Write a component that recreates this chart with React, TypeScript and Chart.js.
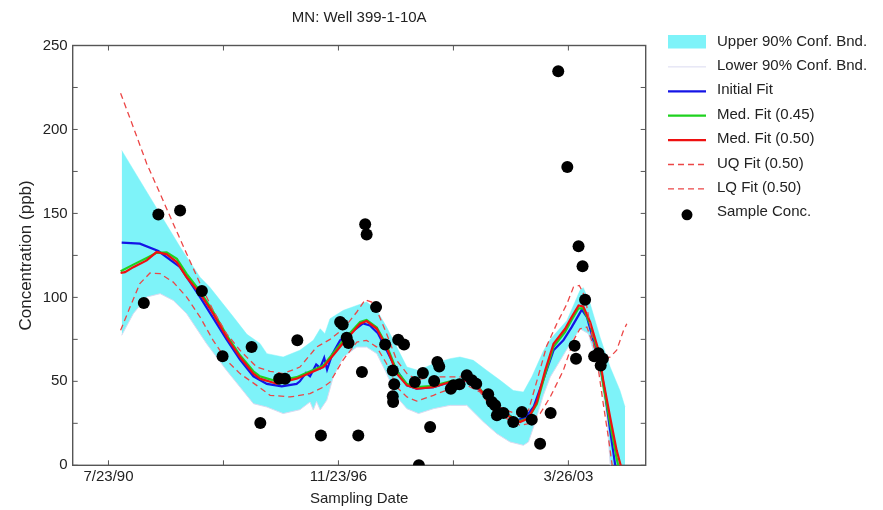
import React, { useEffect, useRef } from 'react';
import { Chart, registerables } from 'chart.js';

Chart.register(...registerables);

// ---------- text ----------
const CHART_TITLE = 'MN: Well 399-1-10A';
const X_TITLE = 'Sampling Date';
const Y_TITLE = 'Concentration (ppb)';

// ---------- axes (x in decimal years) ----------
const X_RANGE = [1989.57, 2005.36];
const X_TICK_VALUES = [1990.556, 1996.893, 2003.23];
const X_TICK_LABELS = ['7/23/90', '11/23/96', '3/26/03'];
const Y_RANGE = [0, 250];
const Y_TICK_VALUES = [0, 50, 100, 150, 200, 250];
const Y_MINOR_STEP = 25;

// ---------- series ----------
const sampleConc: [number, number][] = [
  [1991.53, 96.6], [1991.93, 149.4], [1992.53, 151.8], [1993.13, 103.8], [1993.7, 64.9],
  [1994.5, 70.4], [1994.74, 25.2], [1995.26, 51.6], [1995.42, 51.6], [1995.76, 74.4],
  [1996.41, 17.7], [1996.94, 85.3], [1997.01, 83.9], [1997.12, 76], [1997.17, 72.8],
  [1997.54, 55.5], [1997.44, 17.7], [1997.63, 143.5], [1997.67, 137.5], [1997.93, 94.2],
  [1998.18, 72], [1998.54, 74.8], [1998.7, 72], [1998.39, 56.5], [1998.43, 48.2],
  [1998.39, 41.1], [1998.4, 37.7], [1999.0, 49.6], [1999.11, 0], [1999.22, 55],
  [1999.53, 50.2], [1999.62, 61.5], [1999.67, 58.9], [1999.42, 22.8], [1999.99, 45.6],
  [2000.06, 47.6], [2000.23, 48.2], [2000.43, 53.6], [2000.57, 50.6], [2000.69, 48.6],
  [2001.02, 42.3], [2001.12, 37.7], [2001.21, 35.7], [2001.26, 29.8], [2001.44, 31.1],
  [2001.71, 25.8], [2001.95, 31.7], [2002.22, 27.2], [2002.45, 12.9], [2002.74, 31.1],
  [2002.95, 234.7], [2003.2, 177.6], [2003.51, 130.4], [2003.62, 118.5], [2003.69, 98.6],
  [2003.4, 71.2], [2003.44, 63.5], [2003.94, 64.9], [2004.06, 66.8], [2004.18, 63.5],
  [2004.12, 59.5],
];

const initialFit: [number, number][] = [
  [1990.92, 132.6], [1991.42, 132], [1991.93, 127.6], [1992.53, 118], [1993.08, 100.2],
  [1993.81, 75], [1994.18, 63], [1994.55, 53], [1994.92, 48.5], [1995.33, 47],
  [1995.74, 48.5], [1995.83, 50], [1996.0, 55], [1996.11, 53], [1996.28, 60],
  [1996.39, 58], [1996.5, 64], [1996.58, 57], [1996.72, 66], [1996.94, 74.4],
  [1997.21, 78.6], [1997.57, 84.5], [1997.76, 83.3], [1997.98, 78.6], [1998.22, 68.5],
  [1998.5, 56.5], [1998.78, 47.6], [1999.05, 45.6], [1999.51, 46.6], [1999.97, 49.6],
  [2000.43, 50.6], [2000.8, 44.6], [2001.16, 35.7], [2001.53, 30.8], [2001.81, 26.8],
  [2002.04, 28.4], [2002.27, 34.7], [2002.54, 51], [2002.82, 68.5], [2003.09, 74.4],
  [2003.32, 82.3], [2003.6, 92.7], [2003.74, 88.3], [2003.92, 74.4], [2004.1, 60.5],
  [2004.24, 42.9], [2004.38, 20.8], [2004.52, 0], [2004.65, -20],
];

const medFit045: [number, number][] = [
  [1990.89, 115.6], [1991.24, 119.5], [1991.61, 123.5], [1991.88, 126.5], [1992.16, 126.8],
  [1992.44, 123], [1992.71, 114], [1993.08, 103.5], [1993.44, 91.5], [1993.81, 77.5],
  [1994.18, 65.5], [1994.55, 56], [1994.73, 53], [1995.19, 50], [1995.74, 52.5],
  [1996.48, 59.5], [1997.03, 74.5], [1997.49, 85.3], [1997.67, 86.5], [1997.95, 82],
  [1998.22, 71.5], [1998.5, 56], [1998.78, 48.5], [1999.05, 46.5], [1999.51, 47.3],
  [1999.97, 50], [2000.43, 51], [2000.8, 45.3], [2001.16, 36], [2001.53, 30.2],
  [2001.9, 26.3], [2002.13, 28.2], [2002.36, 36.5], [2002.59, 54.5], [2002.82, 70.5],
  [2003.14, 79.5], [2003.32, 86.5], [2003.51, 93.5], [2003.64, 93.5], [2003.83, 84],
  [2004.06, 66.5], [2004.19, 48], [2004.38, 25], [2004.56, 4], [2004.6, 0], [2004.72, -15],
];

const medFit050: [number, number][] = [
  [1990.89, 114.5], [1991.01, 115], [1991.24, 118], [1991.61, 122], [1991.88, 127],
  [1992.16, 125.6], [1992.44, 121], [1992.71, 112], [1993.08, 102.2], [1993.44, 90.3],
  [1993.81, 76.4], [1994.18, 64.5], [1994.55, 54.6], [1994.73, 51.6], [1995.19, 48.6],
  [1995.74, 51.6], [1996.48, 58.5], [1997.03, 73], [1997.49, 84.3], [1997.67, 85.9],
  [1997.95, 81.3], [1998.22, 70.4], [1998.5, 54.6], [1998.78, 47.6], [1999.05, 45.6],
  [1999.51, 46.6], [1999.97, 49.6], [2000.43, 50.6], [2000.8, 45], [2001.16, 35.7],
  [2001.53, 29.8], [2001.9, 25.8], [2002.13, 28], [2002.36, 37.7], [2002.59, 56.5],
  [2002.82, 72.4], [2003.14, 81.3], [2003.32, 88.3], [2003.51, 95.2], [2003.64, 94.6],
  [2003.83, 85.3], [2004.06, 68.5], [2004.19, 50.6], [2004.38, 28.7], [2004.56, 8.9],
  [2004.67, 0], [2004.79, -15],
];

const uqFit: [number, number][] = [
  [1990.89, 221.6], [1991.24, 201.4], [1991.61, 179.6], [1991.98, 161.7], [1992.34, 143.9],
  [1992.71, 126], [1993.08, 108.2], [1993.44, 92.3], [1993.81, 78.4], [1994.18, 68.5],
  [1994.64, 58.5], [1995.01, 56], [1995.37, 54.6], [1995.83, 58.5], [1996.29, 70.4],
  [1996.66, 75], [1997.03, 81.3], [1997.4, 91.3], [1997.63, 98.6], [1997.81, 97.2],
  [1997.99, 90.3], [1998.22, 78.4], [1998.5, 62.5], [1998.78, 54.6], [1999.05, 51],
  [1999.51, 52.6], [1999.97, 52.6], [2000.43, 52.6], [2000.8, 45.6], [2001.16, 36.7],
  [2001.53, 32.7], [2001.9, 29.8], [2002.13, 32.7], [2002.45, 57], [2002.63, 71],
  [2002.91, 84.3], [2003.19, 96.2], [2003.37, 106.1], [2003.53, 107.1], [2003.69, 100.2],
  [2003.87, 78.4], [2004.06, 56.5], [2004.19, 36.7], [2004.33, 16.8], [2004.43, 1],
  [2004.52, -10],
];

const lqFit: [number, number][] = [
  [1990.89, 80.4], [1991.15, 94.2], [1991.42, 108.2], [1991.7, 114.5], [1991.98, 114.1],
  [1992.34, 109.1], [1992.71, 100.2], [1993.08, 88.3], [1993.44, 74.4], [1993.81, 62.5],
  [1994.18, 54.6], [1994.64, 47.6], [1995.01, 41.7], [1995.56, 40.7], [1996.11, 42.7],
  [1996.48, 46.6], [1996.66, 49.5], [1997.03, 63], [1997.4, 73.4], [1997.67, 74.4],
  [1997.95, 70.4], [1998.22, 60.5], [1998.5, 46.6], [1998.78, 40.7], [1999.05, 38.2],
  [1999.51, 41.7], [1999.97, 45.6], [2000.43, 47.6], [2000.8, 43.6], [2001.16, 32.7],
  [2001.53, 27.8], [2001.9, 23.8], [2002.13, 24.8], [2002.45, 30.8], [2002.73, 40.7],
  [2003.09, 56.5], [2003.37, 74.4], [2003.55, 81.3], [2003.74, 82.3], [2003.87, 74.4],
  [2004.01, 66.5], [2004.19, 63], [2004.38, 64.5], [2004.56, 68.5], [2004.75, 80.4],
  [2004.84, 84.3],
];

const upperBand: [number, number][] = [
  [1990.92, 187.5], [1992.53, 130], [1993.08, 112], [1993.35, 106], [1994.0, 88.3],
  [1994.37, 78], [1994.73, 72.6], [1994.92, 66.5], [1995.37, 64.5], [1995.83, 68.5],
  [1996.2, 74.4], [1996.39, 81.3], [1996.52, 78.4], [1996.66, 87.3], [1997.03, 92.3],
  [1997.4, 95.2], [1997.67, 97.2], [1997.95, 92.3], [1998.22, 82.3], [1998.5, 70.4],
  [1998.78, 58.5], [1999.1, 56.5], [1999.51, 60.5], [1999.97, 63.5], [2000.24, 64.5],
  [2000.61, 62.5], [2000.98, 56.5], [2001.35, 50.6], [2001.71, 44.6], [2001.99, 43.6],
  [2002.22, 52.6], [2002.54, 68], [2002.73, 75], [2003.19, 86.3], [2003.55, 104.2],
  [2003.64, 105.8], [2003.83, 96.2], [2004.1, 76.4], [2004.38, 58.5], [2004.65, 44.6],
  [2004.79, 34.7],
];

const lowerBand: [number, number][] = [
  [1990.92, 77.4], [1991.24, 90.3], [1991.61, 100.2], [1991.98, 102.2], [1992.34, 98.2],
  [1992.71, 90.3], [1993.26, 72.4], [1993.81, 56.5], [1994.18, 46.6], [1994.55, 36.7],
  [1994.92, 34.7], [1995.37, 30.8], [1995.83, 33.1], [1996.11, 37.7], [1996.2, 33],
  [1996.29, 38], [1996.39, 33], [1996.57, 38.7], [1996.75, 52.6], [1997.03, 64.5],
  [1997.4, 70.4], [1997.67, 70.4], [1997.95, 66.5], [1998.22, 54.6], [1998.5, 40.7],
  [1998.78, 33.7], [1999.1, 30.8], [1999.51, 33.7], [1999.97, 35.7], [2000.43, 35.7],
  [2000.89, 25.8], [2001.26, 18.8], [2001.62, 13.9], [2001.99, 11.9], [2002.13, 13.9],
  [2002.27, 22.8], [2002.54, 41.7], [2002.73, 52.6], [2003.28, 72.4], [2003.55, 81.3],
  [2003.78, 78.4], [2003.97, 64.5], [2004.15, 48.6], [2004.29, 28.7], [2004.38, 1],
  [2004.52, -20], [2004.65, -40], [2004.79, -55],
];

const FONT = '"Liberation Sans", Arial, Helvetica, sans-serif';
const TEXT = '#222222';

const toPts = (a: [number, number][]) => a.map(([x, y]) => ({ x, y }));

const framePlugin = {
  id: 'frameTicks',
  beforeDatasetsDraw(chart: any) {
    const { ctx, chartArea: a, scales } = chart;
    const xs = scales.x;
    const ys = scales.y;
    ctx.save();
    ctx.strokeStyle = '#555555';
    ctx.lineWidth = 1;
    ctx.beginPath();
    const xAll: number[] = [];
    for (let i = 0; i < X_TICK_VALUES.length; i++) {
      xAll.push(X_TICK_VALUES[i]);
      if (i < X_TICK_VALUES.length - 1) xAll.push((X_TICK_VALUES[i] + X_TICK_VALUES[i + 1]) / 2);
    }
    for (const v of xAll) {
      const p = xs.getPixelForValue(v);
      ctx.moveTo(p, a.bottom);
      ctx.lineTo(p, a.bottom - 5);
      ctx.moveTo(p, a.top);
      ctx.lineTo(p, a.top + 5);
    }
    for (let v = Y_RANGE[0]; v <= Y_RANGE[1]; v += Y_MINOR_STEP) {
      const p = ys.getPixelForValue(v);
      ctx.moveTo(a.left, p);
      ctx.lineTo(a.left + 5, p);
      ctx.moveTo(a.right, p);
      ctx.lineTo(a.right - 5, p);
    }
    ctx.stroke();
    ctx.lineWidth = 1.4;
    ctx.strokeRect(a.left, a.top, a.right - a.left, a.bottom - a.top);
    ctx.restore();
  },
};

const titlePlugin = {
  id: 'centerTitle',
  afterDraw(chart: any) {
    const { ctx, chartArea: a } = chart;
    ctx.save();
    ctx.font = `15px ${FONT}`;
    ctx.fillStyle = TEXT;
    ctx.textAlign = 'center';
    ctx.textBaseline = 'alphabetic';
    ctx.fillText(CHART_TITLE, (a.left + a.right) / 2, 21.5);
    ctx.restore();
  },
};

const legendPlugin = {
  id: 'sideLegend',
  afterDraw(chart: any) {
    const ctx = chart.ctx;
    ctx.save();
    ctx.font = `15px ${FONT}`;
    ctx.textBaseline = 'middle';
    ctx.textAlign = 'left';
    const x0 = 668;
    const x1 = 706;
    chart.data.datasets.forEach((ds: any, i: number) => {
      const cy = 41.5 + i * 24.4;
      if (ds.legendKind === 'box') {
        ctx.fillStyle = ds.backgroundColor;
        ctx.fillRect(x0, cy - 6.5, x1 - x0, 13.5);
      } else if (ds.legendKind === 'dot') {
        ctx.beginPath();
        ctx.arc((x0 + x1) / 2, cy + 2.5, 5.5, 0, Math.PI * 2);
        ctx.fillStyle = ds.backgroundColor;
        ctx.fill();
      } else {
        ctx.beginPath();
        ctx.setLineDash(ds.borderDash || []);
        ctx.strokeStyle = ds.borderColor;
        ctx.lineWidth = ds.borderWidth;
        ctx.moveTo(x0, cy + 1);
        ctx.lineTo(x1, cy + 1);
        ctx.stroke();
        ctx.setLineDash([]);
      }
      ctx.fillStyle = TEXT;
      ctx.fillText(ds.label, 717, cy);
    });
    ctx.restore();
  },
};

export default function App() {
  const ref = useRef<HTMLCanvasElement | null>(null);

  useEffect(() => {
    if (!ref.current) return;
    const lineBase = { showLine: true, pointRadius: 0, pointHoverRadius: 0, fill: false, tension: 0 };
    const chart = new Chart(ref.current, {
      type: 'scatter',
      data: {
        datasets: [
          {
            ...lineBase,
            label: 'Upper 90% Conf. Bnd.',
            legendKind: 'box',
            data: toPts(upperBand),
            backgroundColor: 'rgb(126,243,249)',
            borderColor: 'rgb(126,243,249)',
            borderWidth: 0.5,
            fill: '+1',
            order: 10,
          } as any,
          {
            ...lineBase,
            label: 'Lower 90% Conf. Bnd.',
            legendKind: 'line',
            data: toPts(lowerBand),
            borderColor: 'rgb(218,218,240)',
            backgroundColor: 'rgb(218,218,240)',
            borderWidth: 1,
            order: 9,
          } as any,
          {
            ...lineBase,
            label: 'Initial Fit',
            legendKind: 'line',
            data: toPts(initialFit),
            borderColor: '#1414e6',
            borderWidth: 2.2,
            order: 5,
          } as any,
          {
            ...lineBase,
            label: 'Med. Fit (0.45)',
            legendKind: 'line',
            data: toPts(medFit045),
            borderColor: '#1ed21e',
            borderWidth: 2.2,
            order: 4,
          } as any,
          {
            ...lineBase,
            label: 'Med. Fit (0.50)',
            legendKind: 'line',
            data: toPts(medFit050),
            borderColor: '#ee1010',
            borderWidth: 2.2,
            order: 3,
          } as any,
          {
            ...lineBase,
            label: 'UQ Fit (0.50)',
            legendKind: 'line',
            data: toPts(uqFit),
            borderColor: '#ec4646',
            borderWidth: 1.3,
            borderDash: [6, 4],
            order: 2,
          } as any,
          {
            ...lineBase,
            label: 'LQ Fit (0.50)',
            legendKind: 'line',
            data: toPts(lqFit),
            borderColor: '#ec4646',
            borderWidth: 1.3,
            borderDash: [6, 4],
            order: 1,
          } as any,
          {
            label: 'Sample Conc.',
            legendKind: 'dot',
            data: toPts(sampleConc),
            showLine: false,
            pointRadius: 6,
            pointHoverRadius: 6,
            backgroundColor: '#000000',
            borderColor: '#000000',
            borderWidth: 0,
            order: 0,
          } as any,
        ],
      },
      options: {
        animation: false,
        responsive: false,
        events: [],
        layout: { padding: { top: 45.5, right: 237.3, left: 0, bottom: 0 } },
        plugins: {
          legend: { display: false },
          title: { display: false },
          tooltip: { enabled: false },
          filler: { propagate: false, drawTime: 'beforeDatasetsDraw' },
        } as any,
        scales: {
          x: {
            type: 'linear',
            min: X_RANGE[0],
            max: X_RANGE[1],
            afterBuildTicks: (s: any) => {
              s.ticks = X_TICK_VALUES.map((v) => ({ value: v }));
            },
            afterFit: (s: any) => {
              s.height = 44.7;
            },
            grid: { display: false, drawTicks: false },
            border: { display: false },
            ticks: {
              autoSkip: false,
              maxRotation: 0,
              padding: 3,
              color: TEXT,
              font: { size: 15, family: FONT },
              callback: (_v: any, i: number) => X_TICK_LABELS[i],
            },
            title: {
              display: true,
              text: X_TITLE,
              color: TEXT,
              font: { size: 15, family: FONT },
              padding: { top: 0, bottom: 2 },
            },
          },
          y: {
            type: 'linear',
            min: Y_RANGE[0],
            max: Y_RANGE[1],
            afterBuildTicks: (s: any) => {
              s.ticks = Y_TICK_VALUES.map((v) => ({ value: v }));
            },
            afterFit: (s: any) => {
              s.width = 72.7;
            },
            grid: { display: false, drawTicks: false },
            border: { display: false },
            ticks: {
              padding: 5,
              color: TEXT,
              font: { size: 15, family: FONT },
            },
            title: {
              display: true,
              text: Y_TITLE,
              color: TEXT,
              font: { size: 17, family: FONT },
              padding: { top: 16, bottom: 0 },
            },
          },
        },
      } as any,
      plugins: [framePlugin, titlePlugin, legendPlugin],
    });
    return () => chart.destroy();
  }, []);

  return (
    <div style={{ position: 'absolute', left: 0, top: 0, width: 883, height: 510, background: '#fff' }}>
      <canvas ref={ref} width={883} height={510} style={{ display: 'block' }} />
    </div>
  );
}
